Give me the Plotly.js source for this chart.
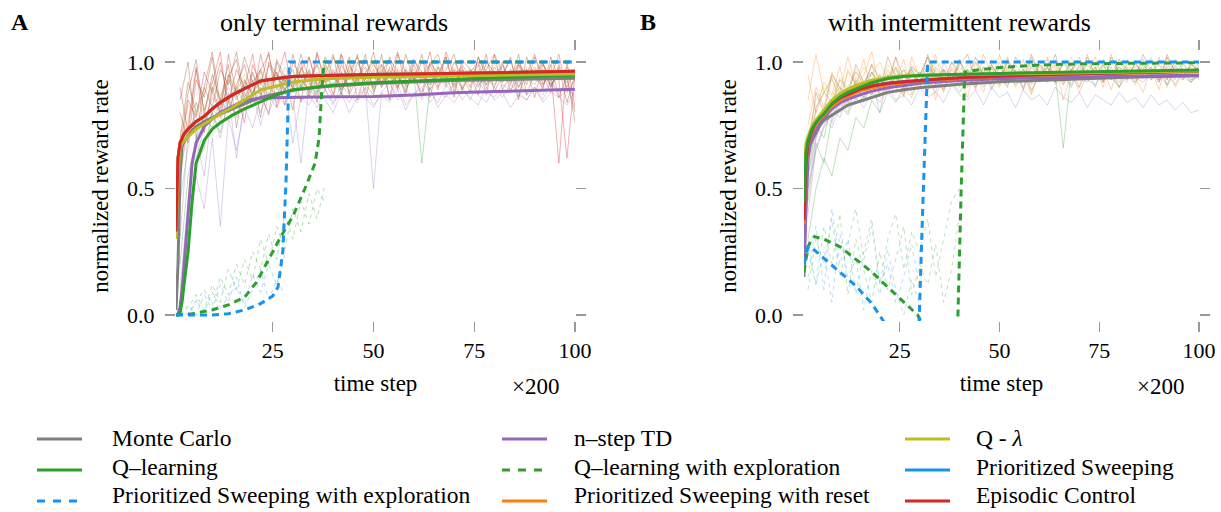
<!DOCTYPE html>
<html><head><meta charset="utf-8">
<script src="https://cdn.plot.ly/plotly-3.0.1.min.js"></script>
<style>html,body{margin:0;padding:0;background:#fff;}</style>
</head><body><div id="chart" style="width:1221px;height:512px;"></div>
<script>
// ---------------- DATA ----------------
const methods = ["Monte Carlo","n–step TD","Q - <i>λ</i>","Q–learning","Q–learning with exploration","Prioritized Sweeping","Prioritized Sweeping with exploration","Prioritized Sweeping with reset","Episodic Control"];
const panelTitles = ["only terminal rewards","with intermittent rewards"];
const panelLetters = ["A","B"];
const xTicks = [25,50,75,100];
const yTicks = [0,0.5,1.0];
const yTickText = ["0.0","0.5","1.0"];

// mean curves, x in units of 200 time steps
const xMean = [1,1.5,2,2.5,3,4,5,6,8,10,12,15,18,22,26,30,35,40,50,60,70,80,90,100];
// Panel A
const A_mc     = [0.02,0.2,0.55,0.665,0.685,0.71,0.73,0.745,0.765,0.78,0.795,0.815,0.835,0.86,0.875,0.888,0.898,0.905,0.915,0.922,0.927,0.93,0.933,0.936];
const A_nstep  = [0.0,0.005,0.03,0.1,0.2,0.42,0.6,0.68,0.745,0.775,0.8,0.825,0.848,0.858,0.86,0.86,0.862,0.863,0.864,0.87,0.878,0.883,0.888,0.892];
const A_qlam   = [0.30,0.55,0.665,0.68,0.69,0.705,0.72,0.735,0.755,0.775,0.795,0.82,0.85,0.89,0.905,0.92,0.93,0.935,0.94,0.943,0.946,0.949,0.951,0.953];
const A_ql     = [0.0,0.0,0.01,0.05,0.12,0.25,0.45,0.6,0.69,0.735,0.76,0.79,0.815,0.843,0.87,0.89,0.9,0.908,0.918,0.925,0.932,0.938,0.943,0.948];
const A_ps     = [0.33,0.62,0.68,0.70,0.715,0.735,0.75,0.765,0.785,0.815,0.84,0.87,0.895,0.925,0.935,0.943,0.946,0.948,0.951,0.953,0.955,0.958,0.96,0.963];
const A_psr    = [0.33,0.62,0.68,0.70,0.715,0.735,0.75,0.765,0.785,0.815,0.84,0.87,0.895,0.925,0.935,0.943,0.946,0.948,0.951,0.953,0.955,0.958,0.96,0.963];
const A_ec     = [0.33,0.62,0.68,0.70,0.715,0.735,0.75,0.765,0.785,0.815,0.84,0.87,0.895,0.925,0.935,0.943,0.946,0.948,0.951,0.953,0.955,0.958,0.96,0.963];
const A_qlx_x  = [1,5,10,14,18,21,24,27,30,33,35.5,36.5,37.2,37.8,50,75,100];
const A_qlx    = [0,0.005,0.02,0.04,0.07,0.13,0.22,0.31,0.39,0.5,0.6,0.7,0.9,1.0,1.0,1.0,1.0];
const A_psx_x  = [1,5,10,14,18,22,25,26.3,27.5,28.3,28.8,29.1,50,75,100];
const A_psx    = [0,0,0,0.005,0.02,0.045,0.075,0.11,0.25,0.53,0.8,1.0,1.0,1.0,1.0];
// Panel B
const B_mc     = [0.15,0.5,0.63,0.67,0.69,0.72,0.75,0.77,0.79,0.81,0.83,0.845,0.86,0.88,0.89,0.898,0.905,0.912,0.922,0.928,0.934,0.939,0.943,0.946];
const B_nstep  = [0.2,0.45,0.62,0.67,0.70,0.73,0.76,0.78,0.815,0.838,0.853,0.87,0.885,0.898,0.908,0.916,0.922,0.927,0.934,0.938,0.941,0.944,0.946,0.948];
const B_qlam   = [0.55,0.68,0.705,0.725,0.745,0.77,0.79,0.81,0.85,0.875,0.893,0.912,0.928,0.94,0.946,0.948,0.95,0.951,0.953,0.955,0.958,0.96,0.962,0.964];
const B_ql     = [0.45,0.64,0.69,0.715,0.735,0.76,0.78,0.795,0.835,0.862,0.88,0.9,0.918,0.935,0.943,0.947,0.95,0.952,0.955,0.958,0.961,0.964,0.966,0.968];
const B_ps     = [0.375,0.6,0.68,0.71,0.73,0.765,0.785,0.80,0.835,0.858,0.872,0.893,0.905,0.916,0.922,0.928,0.933,0.938,0.945,0.95,0.954,0.958,0.961,0.964];
const B_psr    = [0.36,0.58,0.665,0.70,0.72,0.755,0.775,0.79,0.825,0.85,0.865,0.885,0.898,0.91,0.918,0.925,0.93,0.935,0.943,0.948,0.952,0.956,0.959,0.962];
const B_ec     = [0.375,0.6,0.68,0.71,0.73,0.765,0.785,0.80,0.835,0.858,0.872,0.893,0.905,0.916,0.922,0.928,0.933,0.938,0.945,0.95,0.954,0.958,0.961,0.964];
const B_qlx_x  = [1,2,3,3.6,6,10,14,18,22,26,28,29.5,31,35,39.5,40.4,41.3,45,50,60,70,100];
const B_qlx    = [0.17,0.27,0.30,0.31,0.30,0.27,0.22,0.17,0.11,0.05,0.02,0.0,-0.05,-0.05,-0.05,0.5,0.96,0.97,0.978,0.988,0.993,0.997];
const B_psx_x  = [1,2,3,6,10,14,18,20.7,22,26,29.8,30.5,31.3,32,40,100];
const B_psx    = [0.2,0.27,0.265,0.225,0.17,0.115,0.045,-0.02,-0.05,-0.05,-0.05,0.3,0.7,1.0,1.0,1.0];

// individual runs (thin lines), sampled every 2 x-units
const xRun = [2,4,6,8,10,12,14,16,18,20,22,24,26,28,30,32,34,36,38,40,42,44,46,48,50,52,54,56,58,60,62,64,66,68,70,72,74,76,78,80,82,84,86,88,90,92,94,96,98,100];
const A_run_ec1 = [0.62,0.85,0.78,0.96,0.88,1.0,0.84,0.97,0.9,1.03,0.86,0.99,0.93,1.04,0.88,0.97,1.02,0.9,0.98,0.87,1.03,0.95,0.91,1.01,0.94,0.99,0.86,1.03,0.96,0.92,1.0,0.97,0.89,1.04,0.95,0.98,0.9,1.02,0.96,0.93,1.0,0.88,0.99,0.95,1.03,0.91,0.97,0.6,1.0,0.82];
const A_run_ec2 = [0.7,0.92,0.8,0.9,1.04,0.83,0.95,0.88,1.02,0.92,0.97,0.85,1.01,0.94,0.9,1.03,0.93,0.99,0.89,1.02,0.96,0.88,1.0,0.93,1.04,0.9,0.98,0.95,0.87,1.01,0.94,0.99,0.92,0.97,1.03,0.89,0.96,1.0,0.91,0.98,0.94,1.02,0.86,0.97,0.93,1.0,0.9,0.98,0.84,0.95];
const A_run_ec3 = [0.55,0.75,0.98,0.72,0.9,0.8,1.03,0.87,0.76,0.99,0.91,1.04,0.82,0.95,0.9,1.0,0.86,1.03,0.92,0.97,0.9,1.02,0.85,0.96,1.0,0.92,0.97,0.89,1.03,0.93,0.88,1.0,0.95,1.02,0.9,0.97,0.93,0.99,0.87,1.03,0.96,0.91,1.0,0.94,0.98,0.89,1.02,0.93,0.62,0.96];
const A_run_ec4 = [0.8,0.68,0.93,0.86,1.02,0.78,0.94,1.01,0.83,0.96,0.88,0.79,1.0,0.92,0.97,0.84,1.02,0.91,0.95,1.03,0.87,0.99,0.92,1.03,0.88,0.96,1.01,0.9,0.97,0.93,1.03,0.86,0.98,0.91,1.0,0.95,0.88,1.02,0.94,0.9,0.99,0.93,1.03,0.87,0.96,1.0,0.9,0.97,0.93,0.8];
const A_run_ec5 = [0.9,0.72,0.97,0.81,0.92,1.04,0.8,0.91,0.99,0.85,1.03,0.9,0.96,0.83,1.0,0.94,0.88,1.04,0.92,0.86,0.99,0.93,1.03,0.86,0.97,0.91,1.02,0.95,0.88,0.99,0.92,1.04,0.9,0.95,0.86,1.01,0.97,0.92,1.03,0.88,0.95,1.01,0.9,0.97,0.86,0.99,0.94,1.03,0.88,0.93];
const A_run_ec6 = [0.66,0.88,1.01,0.79,0.95,0.85,0.99,0.74,0.93,0.87,0.97,1.03,0.89,0.94,0.81,0.98,0.92,0.87,1.02,0.95,0.89,0.96,1.02,0.91,0.87,0.99,0.94,1.04,0.9,0.96,0.86,0.99,1.03,0.93,0.97,0.89,0.95,0.87,1.0,0.96,0.92,0.97,0.85,1.02,0.94,0.9,0.99,0.86,0.95,0.76];
const A_run_ec7 = [0.85,1.0,0.7,0.9,0.82,0.97,0.91,1.04,0.86,0.93,0.78,1.0,0.95,0.88,1.03,0.9,0.96,0.84,0.99,0.93,1.03,0.87,0.94,0.98,0.9,1.03,0.85,0.97,0.93,1.01,0.96,0.89,0.94,1.02,0.88,0.99,0.94,0.9,0.97,1.03,0.89,0.95,0.99,0.91,1.02,0.95,0.88,0.99,0.9,0.97];
const A_run_ql  = [0.2,0.55,0.7,0.78,0.74,0.85,0.8,0.9,0.83,0.88,0.92,0.86,0.95,0.89,0.93,0.9,0.97,0.88,0.94,0.91,0.96,0.9,0.93,0.95,0.89,0.97,0.92,0.94,0.91,0.96,0.6,0.9,0.98,0.94,0.91,0.96,0.93,0.97,0.9,0.95,0.98,0.92,0.96,0.94,0.91,0.97,0.95,0.93,0.98,0.94];
const A_run_ql2 = [0.05,0.35,0.6,0.66,0.8,0.72,0.84,0.79,0.88,0.82,0.9,0.85,0.87,0.93,0.88,0.91,0.86,0.94,0.9,0.92,0.88,0.95,0.91,0.93,0.9,0.96,0.92,0.94,0.89,0.95,0.93,0.91,0.96,0.92,0.94,0.9,0.97,0.93,0.95,0.91,0.96,0.94,0.92,0.97,0.93,0.95,0.91,0.96,0.94,0.95];
const A_run_qlam= [0.65,0.78,0.84,0.8,0.9,0.87,0.93,0.88,0.95,0.91,0.97,0.92,0.9,0.98,0.93,0.96,0.91,0.99,0.94,0.95,0.92,0.98,0.95,0.93,0.99,0.94,0.97,0.92,0.98,0.95,0.96,0.93,0.99,0.95,0.97,0.94,0.98,0.96,0.93,0.99,0.95,0.97,0.94,0.98,0.96,0.99,0.95,0.97,0.94,0.98];
const A_run_qlam2=[0.7,0.83,0.79,0.88,0.92,0.85,0.95,0.9,0.93,0.88,0.96,0.91,0.98,0.93,0.9,0.97,0.94,0.92,0.99,0.95,0.93,0.97,0.91,0.96,0.99,0.94,0.92,0.98,0.95,0.97,0.93,0.99,0.96,0.94,0.98,0.92,0.97,0.95,0.99,0.94,0.96,0.93,0.98,0.95,0.97,0.92,0.99,0.96,0.94,0.97];
const A_run_ns1 = [0.1,0.45,0.7,0.55,0.82,0.76,0.88,0.62,0.85,0.9,0.8,0.88,0.84,0.92,0.86,0.6,0.9,0.85,0.89,0.83,0.91,0.87,0.84,0.9,0.5,0.88,0.92,0.85,0.89,0.86,0.93,0.88,0.84,0.91,0.87,0.9,0.85,0.92,0.88,0.86,0.91,0.89,0.93,0.87,0.9,0.85,0.92,0.88,0.9,0.86];
const A_run_ns2 = [0.05,0.3,0.55,0.42,0.7,0.35,0.78,0.65,0.82,0.74,0.86,0.8,0.88,0.83,0.9,0.85,0.87,0.82,0.89,0.84,0.88,0.8,0.86,0.9,0.83,0.87,0.84,0.89,0.81,0.88,0.85,0.9,0.82,0.87,0.84,0.89,0.86,0.83,0.9,0.85,0.88,0.82,0.87,0.85,0.9,0.84,0.88,0.86,0.83,0.89];
const A_run_ns3 = [0.08,0.25,0.62,0.74,0.8,0.7,0.86,0.78,0.84,0.88,0.75,0.87,0.82,0.9,0.68,0.86,0.83,0.89,0.85,0.8,0.88,0.84,0.9,0.86,0.82,0.88,0.85,0.91,0.83,0.87,0.9,0.84,0.88,0.86,0.92,0.85,0.89,0.87,0.84,0.9,0.86,0.91,0.88,0.85,0.9,0.87,0.93,0.86,0.89,0.87];
const A_run_mc  = [0.3,0.72,0.8,0.76,0.86,0.82,0.9,0.85,0.92,0.88,0.94,0.9,0.87,0.95,0.91,0.93,0.89,0.96,0.92,0.94,0.9,0.95,0.93,0.91,0.96,0.92,0.94,0.9,0.97,0.93,0.95,0.91,0.96,0.94,0.92,0.97,0.93,0.95,0.91,0.96,0.94,0.92,0.97,0.93,0.95,0.91,0.96,0.94,0.92,0.95];
const A_run_mc2 = [0.45,0.66,0.84,0.73,0.88,0.79,0.93,0.86,0.9,0.95,0.87,0.92,0.96,0.89,0.94,0.91,0.97,0.9,0.93,0.96,0.89,0.94,0.97,0.92,0.95,0.9,0.96,0.93,0.91,0.97,0.94,0.92,0.96,0.9,0.95,0.93,0.97,0.91,0.94,0.96,0.92,0.95,0.9,0.97,0.93,0.96,0.91,0.95,0.93,0.96];
const A_run_qlx1 = [0.0,0.03,0.08,0.02,0.12,0.05,0.18,0.1,0.22,0.14,0.3,0.2,0.35,0.26,0.42,0.33,0.48,0.38,0.52];
const A_run_qlx2 = [0.02,0.0,0.05,0.1,0.04,0.15,0.08,0.2,0.12,0.25,0.18,0.32,0.22,0.4,0.3,0.45,0.36,0.5,0.44];
const A_run_psx1 = [0.0,0.04,0.0,0.08,0.02,0.12,0.05,0.15,0.03,0.1,0.18,0.06,0.14,0.08];
const A_run_psx2 = [0.03,0.0,0.06,0.01,0.09,0.03,0.07,0.11,0.04,0.16,0.09,0.2,0.12,0.24];

const B_run_psr1 = [0.75,0.9,0.82,0.96,0.88,1.02,0.9,0.95,1.04,0.89,0.97,0.92,1.01,0.87,0.96,0.93,1.03,0.9,0.98,0.94,0.86,1.0,0.95,0.91,1.03,0.93,0.97,0.89,1.02,0.95,0.92,0.99,0.85,0.96,1.02,0.93,0.98,0.9,1.03,0.95,0.92,1.0,0.94,0.97,0.89,1.02,0.96,0.93,1.0,0.95];
const B_run_psr2 = [0.95,0.8,0.92,0.87,0.98,0.84,0.94,0.9,0.99,0.86,0.93,1.02,0.88,0.95,0.91,0.99,0.85,0.97,0.92,1.01,0.9,0.95,0.88,0.99,0.93,1.02,0.9,0.96,0.87,0.98,0.94,1.01,0.91,0.97,0.88,0.95,1.02,0.92,0.97,0.9,1.01,0.94,0.88,0.98,0.93,1.02,0.9,0.96,0.92,0.99];
const B_run_psr3 = [0.85,1.03,0.88,0.94,0.83,0.97,0.91,1.01,0.87,0.95,0.9,0.98,0.86,1.02,0.94,0.9,0.97,0.88,1.0,0.93,0.97,0.89,1.03,0.95,0.9,0.98,0.93,1.01,0.88,0.96,1.02,0.91,0.95,0.99,0.9,1.03,0.94,0.97,0.89,1.0,0.95,0.91,0.98,0.94,1.02,0.9,0.97,0.93,0.99,0.96];
const B_run_ns1  = [0.5,0.7,0.8,0.76,0.88,0.83,0.91,0.86,0.93,0.8,0.95,0.9,0.87,0.97,0.92,0.94,0.88,1.0,0.93,0.9,0.97,0.91,0.95,0.89,0.98,0.93,0.96,0.9,0.99,0.94,0.92,0.97,0.95,0.91,0.99,0.94,0.96,0.92,1.0,0.95,0.93,0.98,0.94,0.96,0.92,0.99,0.95,0.93,0.97,0.94];
const B_run_ns2  = [0.55,0.7,0.78,0.74,0.83,0.79,0.86,0.82,0.88,0.84,0.9,0.85,0.87,0.83,0.9,0.86,0.88,0.84,0.91,0.87,0.85,0.89,0.83,0.9,0.86,0.88,0.82,0.89,0.85,0.87,0.83,0.9,0.86,0.84,0.88,0.82,0.87,0.85,0.83,0.88,0.84,0.86,0.82,0.87,0.83,0.85,0.81,0.84,0.8,0.81];
const B_run_ns3  = [0.4,0.66,0.75,0.82,0.78,0.87,0.92,0.85,0.9,0.95,0.88,0.93,0.97,0.9,0.95,0.99,0.91,0.96,0.93,1.01,0.94,0.9,0.97,0.93,1.0,0.92,0.96,0.89,0.98,0.94,1.01,0.92,0.96,0.99,0.93,0.97,0.9,0.99,0.95,0.92,0.98,0.94,1.01,0.93,0.97,0.91,0.99,0.94,0.96,0.93];
const B_run_mc   = [0.6,0.72,0.79,0.84,0.8,0.88,0.85,0.9,0.87,0.93,0.89,0.95,0.9,0.92,0.96,0.91,0.94,0.89,0.97,0.93,0.95,0.9,0.98,0.94,0.92,0.96,0.93,0.97,0.91,0.95,0.98,0.93,0.96,0.94,0.9,0.97,0.95,0.93,0.98,0.94,0.96,0.92,0.97,0.95,0.93,0.98,0.94,0.96,0.92,0.95];
const B_run_mc2  = [0.5,0.65,0.74,0.8,0.86,0.82,0.89,0.84,0.92,0.87,0.9,0.94,0.88,0.93,0.9,0.96,0.92,0.89,0.95,0.91,0.94,0.97,0.9,0.95,0.93,0.91,0.97,0.94,0.92,0.96,0.93,0.95,0.91,0.97,0.94,0.92,0.96,0.93,0.95,0.9,0.97,0.94,0.92,0.96,0.93,0.95,0.91,0.97,0.93,0.94];
const B_run_ql1  = [0.45,0.68,0.6,0.78,0.84,0.8,0.9,0.86,0.93,0.88,0.95,0.91,0.97,0.92,0.94,0.9,0.98,0.93,0.95,0.91,0.97,0.94,0.92,0.98,0.95,0.93,0.99,0.94,0.96,0.92,0.98,0.95,0.66,0.97,0.94,0.99,0.95,0.97,0.93,0.98,0.96,0.94,0.99,0.95,0.97,0.93,0.98,0.96,0.94,0.97];
const B_run_ql2  = [0.3,0.5,0.62,0.55,0.7,0.65,0.78,0.74,0.85,0.8,0.88,0.84,0.9,0.86,0.93,0.89,0.95,0.9,0.92,0.88,0.94,0.91,0.96,0.9,0.93,0.97,0.91,0.95,0.89,0.94,0.96,0.92,0.95,0.9,0.97,0.93,0.91,0.96,0.94,0.9,0.95,0.92,0.97,0.93,0.95,0.91,0.96,0.94,0.92,0.96];
const B_run_ql3  = [0.55,0.75,0.7,0.85,0.9,0.84,0.93,0.88,0.96,0.91,0.94,0.98,0.92,0.96,0.9,0.99,0.94,0.97,0.92,1.0,0.95,0.93,0.98,0.96,0.92,1.0,0.95,0.97,0.93,0.99,0.96,0.94,1.0,0.95,0.98,0.93,0.97,1.01,0.95,0.98,0.94,0.99,0.96,1.01,0.95,0.97,0.93,0.99,0.96,0.98];
const B_run_ec   = [0.6,0.82,0.88,0.84,0.93,0.89,0.96,0.91,0.99,0.93,0.9,1.02,0.94,0.97,0.91,1.03,0.95,0.92,1.0,0.96,0.93,1.02,0.94,0.98,0.91,1.01,0.96,0.93,1.03,0.95,0.98,0.92,1.0,0.97,0.94,1.02,0.95,0.99,0.93,1.01,0.97,0.94,1.03,0.96,0.99,0.93,1.01,0.97,0.95,1.0];
const B_run_ec2  = [0.65,0.88,0.8,0.95,0.9,0.86,0.99,0.92,0.96,0.89,1.02,0.94,0.9,0.98,0.95,1.02,0.91,0.97,0.93,0.99,1.03,0.92,0.96,0.99,0.94,0.9,1.02,0.97,0.93,0.99,0.95,1.03,0.92,0.97,1.0,0.94,0.98,0.92,1.02,0.96,0.93,1.0,0.95,0.98,0.92,1.03,0.96,0.94,0.99,0.97];
const B_run_qlam = [0.7,0.85,0.9,0.86,0.94,0.9,0.97,0.92,0.95,1.0,0.93,0.97,0.91,0.99,0.95,0.92,1.01,0.96,0.93,0.98,0.95,1.0,0.92,0.97,0.94,0.99,0.96,0.93,1.01,0.95,0.97,0.94,0.99,0.96,0.93,1.0,0.95,0.98,0.94,1.01,0.96,0.93,0.99,0.95,0.97,0.94,1.0,0.96,0.98,0.95];
const B_run_qlam2= [0.72,0.8,0.88,0.93,0.87,0.96,0.91,0.98,0.94,0.9,0.99,0.95,0.92,0.98,0.94,1.02,0.93,0.97,0.95,0.91,0.99,0.96,0.93,1.01,0.95,0.98,0.92,0.97,1.0,0.94,0.96,0.99,0.93,1.02,0.95,0.97,0.94,1.0,0.96,0.93,0.99,0.95,0.97,1.02,0.94,0.98,0.95,1.0,0.93,0.97];
const B_run_qlx1 = [0.1,0.3,0.2,0.38,0.15,0.28,0.42,0.22,0.35,0.12,0.3,0.4,0.18,0.33,0.25,0.38,0.15,0.3,0.45,0.5];
const B_run_qlx2 = [0.25,0.12,0.35,0.2,0.4,0.08,0.3,0.18,0.05,0.25,0.1,0.22,0.35,0.08,0.2,0.12,0.28,0.05,0.18,0.4];
const B_run_psx1 = [0.15,0.35,0.1,0.42,0.2,0.3,0.08,0.25,0.38,0.12,0.2,0.05,0.15,0.28,0.1];
const B_run_psx2 = [0.3,0.12,0.25,0.05,0.32,0.15,0.22,0.02,0.18,0.08,0.26,0.1,0.0,0.14,0.04];

// ---------------- STYLE ----------------
const W = 1221, H = 512;
const SERIF = "Liberation Serif, Times New Roman, serif";
const C = {mc:"#808080", ns:"#9467bd", qlam:"#bcbd22", ql:"#2ca02c", ps:"#1593f0", psr:"#ff7f0e", ec:"#d62728", ecRun:"#a0522d"};
const px = x => x / W, py = y => 1 - y / H;

const traces = [];
function run(xa, ya, x, y, color, dashed, op) {
  traces.push({x, y, xaxis: xa, yaxis: ya, type: "scatter", mode: "lines", showlegend: false, hoverinfo: "skip",
    opacity: op, line: {color, width: 1, dash: dashed ? "4px,4px" : "solid"}});
}
function mean(xa, ya, x, y, color, dashed, name) {
  traces.push({x, y, xaxis: xa, yaxis: ya, type: "scatter", mode: "lines", name, showlegend: false,
    line: {color, width: 3, dash: dashed ? "7px,5px" : "solid"}});
}
const xs = n => xRun.slice(0, n);

// Panel A thin runs
[A_run_mc, A_run_mc2].forEach(r => run("x","y", xRun, r, C.mc, false, 0.33));
[A_run_ns1, A_run_ns2, A_run_ns3].forEach(r => run("x","y", xRun, r, C.ns, false, 0.3));
[A_run_ql, A_run_ql2].forEach(r => run("x","y", xRun, r, C.ql, false, 0.32));
[A_run_qlam, A_run_qlam2].forEach(r => run("x","y", xRun, r, C.qlam, false, 0.32));
[A_run_ec1, A_run_ec3, A_run_ec5].forEach(r => run("x","y", xRun, r, C.ec, false, 0.36));
[A_run_ec2, A_run_ec4, A_run_ec6, A_run_ec7].forEach(r => run("x","y", xRun, r, C.ecRun, false, 0.38));
[A_run_qlx1, A_run_qlx2].forEach(r => run("x","y", xs(r.length), r, C.ql, true, 0.35));
[A_run_psx1, A_run_psx2].forEach(r => run("x","y", xs(r.length), r, C.ps, true, 0.35));
// Panel A means
mean("x","y", xMean, A_mc, C.mc, false, methods[0]);
mean("x","y", xMean, A_nstep, C.ns, false, methods[1]);
mean("x","y", xMean, A_ql, C.ql, false, methods[3]);
mean("x","y", xMean, A_ps, C.ps, false, methods[5]);
mean("x","y", xMean, A_psr, C.psr, false, methods[7]);
mean("x","y", xMean, A_qlam, C.qlam, false, methods[2]);
mean("x","y", xMean, A_ec, C.ec, false, methods[8]);
mean("x","y", A_qlx_x, A_qlx, C.ql, true, methods[4]);
mean("x","y", A_psx_x, A_psx, C.ps, true, methods[6]);

// Panel B thin runs
[B_run_mc, B_run_mc2].forEach(r => run("x2","y2", xRun, r, C.mc, false, 0.32));
[B_run_ns1, B_run_ns2, B_run_ns3].forEach(r => run("x2","y2", xRun, r, C.ns, false, 0.3));
[B_run_ql1, B_run_ql2, B_run_ql3].forEach(r => run("x2","y2", xRun, r, C.ql, false, 0.3));
[B_run_psr1, B_run_psr2, B_run_psr3].forEach(r => run("x2","y2", xRun, r, C.psr, false, 0.32));
[B_run_qlam, B_run_qlam2].forEach(r => run("x2","y2", xRun, r, C.qlam, false, 0.32));
[B_run_ec, B_run_ec2].forEach(r => run("x2","y2", xRun, r, C.ecRun, false, 0.32));
[B_run_qlx1, B_run_qlx2].forEach(r => run("x2","y2", xs(r.length), r, C.ql, true, 0.3));
[B_run_psx1, B_run_psx2].forEach(r => run("x2","y2", xs(r.length), r, C.ps, true, 0.3));
// Panel B means
mean("x2","y2", xMean, B_mc, C.mc, false, methods[0]);
mean("x2","y2", xMean, B_nstep, C.ns, false, methods[1]);
mean("x2","y2", xMean, B_psr, C.psr, false, methods[7]);
mean("x2","y2", xMean, B_ps, C.ps, false, methods[5]);
mean("x2","y2", xMean, B_ec, C.ec, false, methods[8]);
mean("x2","y2", xMean, B_qlam, C.qlam, false, methods[2]);
mean("x2","y2", xMean, B_ql, C.ql, false, methods[3]);
mean("x2","y2", B_qlx_x, B_qlx, C.ql, true, methods[4]);
mean("x2","y2", B_psx_x, B_psx, C.ps, true, methods[6]);

// ---------------- LAYOUT ----------------
const yDom = [py(321), py(51)];
function xAxis(domain, anchor) {
  return {domain, anchor, range: [1, 100], tickvals: xTicks, ticks: "outside", ticklen: 10, tickwidth: 1.2,
    tickcolor: "#999", mirror: "ticks", showline: false, showgrid: false, zeroline: false,
    tickfont: {family: SERIF, size: 22, color: "#000"},
    title: {text: "time step", font: {family: SERIF, size: 23, color: "#000"}, standoff: 12}};
}
function yAxis(anchor) {
  return {domain: yDom, anchor, range: [-0.0237, 1.0435], tickvals: yTicks, ticktext: yTickText, ticks: "outside",
    ticklen: 10, tickwidth: 1.2, tickcolor: "#999", mirror: "ticks", showline: false, showgrid: false, zeroline: false,
    ticklabelstandoff: 6,
    tickfont: {family: SERIF, size: 22, color: "#000"},
    title: {text: "normalized reward rate", font: {family: SERIF, size: 23, color: "#000"}, standoff: 12}};
}

const annotations = [];
const shapes = [];
function txt(x, y, text, size, opts) {
  annotations.push(Object.assign({xref: "paper", yref: "paper", x: px(x), y: py(y), text, showarrow: false, borderpad: 0,
    font: {family: SERIF, size, color: "#000"}, xanchor: "center", yanchor: "middle"}, opts || {}));
}
txt(334, 22, panelTitles[0], 26);
txt(960, 22, panelTitles[1], 26);
txt(20, 22, "<b>" + panelLetters[0] + "</b>", 24);
txt(648, 22, "<b>" + panelLetters[1] + "</b>", 24);
txt(535, 386, "×200", 23);
txt(1160, 386, "×200", 23);

// legend (3 columns x 3 rows)
const legCols = [{lx: 37, tx: 111}, {lx: 502, tx: 573}, {lx: 905, tx: 975}];
const legRows = [439, 470, 501];
const legText = [438, 467, 495];
const legItems = [
  {m: 0, c: C.mc, d: false}, {m: 1, c: C.ns, d: false}, {m: 2, c: C.qlam, d: false},
  {m: 3, c: C.ql, d: false}, {m: 4, c: C.ql, d: true}, {m: 5, c: C.ps, d: false},
  {m: 6, c: C.ps, d: true}, {m: 7, c: C.psr, d: false}, {m: 8, c: C.ec, d: false}];
legItems.forEach((it, i) => {
  const col = legCols[i % 3], r = Math.floor(i / 3);
  shapes.push({type: "line", xref: "paper", yref: "paper", x0: px(col.lx), x1: px(col.lx + 45), y0: py(legRows[r]), y1: py(legRows[r]),
    line: {color: it.c, width: 3, dash: it.d ? "8px,8px" : "solid"}});
  txt(col.tx, legText[r], methods[it.m], 23.5, {xanchor: "left"});
});

const layout = {
  width: W, height: H, margin: {l: 0, r: 0, t: 0, b: 0}, paper_bgcolor: "#fff", plot_bgcolor: "#fff",
  showlegend: false, font: {family: SERIF, color: "#000"},
  xaxis: xAxis([px(176), px(575)], "y"), yaxis: yAxis("x"),
  xaxis2: xAxis([px(804), px(1199)], "y2"), yaxis2: yAxis("x2"),
  annotations, shapes
};
Plotly.newPlot("chart", traces, layout, {staticPlot: true, displayModeBar: false});
</script></body></html>
